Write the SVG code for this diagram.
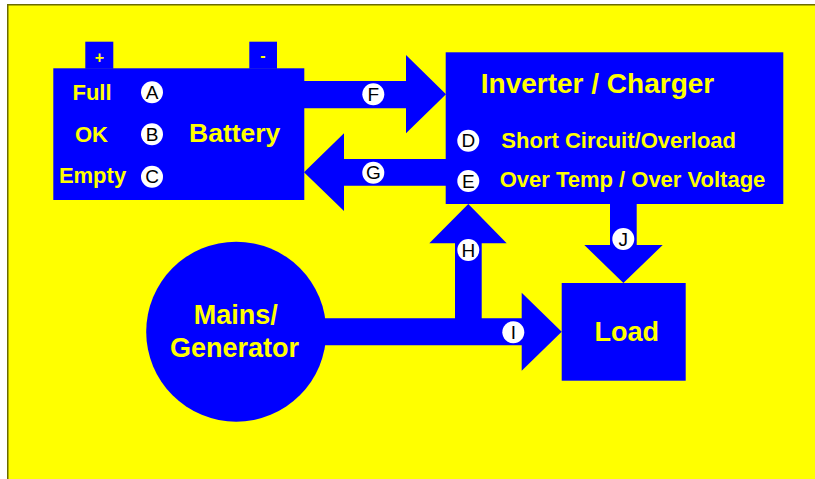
<svg xmlns="http://www.w3.org/2000/svg" width="815" height="479" viewBox="0 0 815 479">
<style>
.blue{fill:#0000ff}
.t{font-family:"Liberation Sans",Arial,sans-serif;font-weight:bold;fill:#ffff00;text-anchor:middle}
.lc{fill:#ffffff}
.lt{font-family:"Liberation Sans",Arial,sans-serif;font-size:19px;fill:#000000;text-anchor:middle}
</style>
<rect x="0" y="0" width="815" height="479" fill="#ffffff"/>
<rect x="8" y="5" width="807" height="474" fill="#ffff00"/>
<rect x="7" y="4" width="808" height="1.5" fill="#6b6b00"/>
<rect x="7" y="4" width="1.5" height="475" fill="#6b6b00"/>

<g id="connectors">
  <polygon class="blue" points="303,81 406,81 406,55 446,94.2 406,133.3 406,108.3 303,108.3"/>
  <polygon class="blue" points="447,159 344,159 344,133.3 304,172.3 344,211 344,185.7 447,185.7"/>
  <polygon class="blue" points="610,203 636.7,203 636.7,245 662.7,245 623.4,283 584.3,245 610,245"/>
  <polygon class="blue" points="300,318.3 455,318.3 455,243.3 429.3,243.3 468.3,204 506.7,243.3 481.7,243.3 481.7,318.3 521.7,318.3 521.7,292.7 561.7,331.7 521.7,370.7 521.7,345.3 300,345.3"/>
  <g id="label-F"><circle class="lc" cx="373.3" cy="94.3" r="11"/><text class="lt" x="373.3" y="101">F</text></g>
  <g id="label-G"><circle class="lc" cx="373.3" cy="172.7" r="11"/><text class="lt" x="373.3" y="179.4">G</text></g>
  <g id="label-H"><circle class="lc" cx="468.3" cy="250" r="11"/><text class="lt" x="468.3" y="256.7">H</text></g>
  <g id="label-I"><circle class="lc" cx="513.3" cy="332.3" r="11"/><text class="lt" x="513.3" y="339">I</text></g>
  <g id="label-J"><circle class="lc" cx="623.3" cy="239" r="11"/><text class="lt" x="623.3" y="245.7">J</text></g>
</g>

<g id="battery">
  <rect class="blue" x="85.3" y="41.7" width="28" height="27"/>
  <rect class="blue" x="249.3" y="41.7" width="27.7" height="27"/>
  <rect class="blue" x="53.3" y="68.3" width="251" height="131.7"/>
  <text class="t" x="99.5" y="63" font-size="16">+</text>
  <text class="t" x="263" y="61" font-size="16">-</text>
  <text class="t" x="92" y="100" font-size="22">Full</text>
  <text class="t" x="91.5" y="141.7" font-size="22">OK</text>
  <text class="t" x="92.5" y="183" font-size="22">Empty</text>
  <text class="t" x="234.7" y="141.7" font-size="26.5">Battery</text>
  <circle class="lc" cx="152" cy="92.3" r="11"/><text class="lt" x="152" y="99">A</text>
  <circle class="lc" cx="152" cy="134.3" r="11"/><text class="lt" x="152" y="141">B</text>
  <circle class="lc" cx="152" cy="176.7" r="11"/><text class="lt" x="152" y="183.4">C</text>
</g>

<g id="inverter">
  <rect class="blue" x="445.7" y="52.3" width="337.6" height="151.7"/>
  <text class="t" x="597.5" y="92.7" font-size="28">Inverter / Charger</text>
  <circle class="lc" cx="468.3" cy="140.7" r="11"/><text class="lt" x="468.3" y="147.4">D</text>
  <text class="t" x="618.7" y="147.7" font-size="22">Short Circuit/Overload</text>
  <circle class="lc" cx="468.3" cy="181" r="11"/><text class="lt" x="468.3" y="187.7">E</text>
  <text class="t" x="632.5" y="186.7" font-size="22">Over Temp / Over Voltage</text>
</g>

<g id="mains">
  <circle class="blue" cx="236.2" cy="331.7" r="90"/>
  <text class="t" x="235.8" y="324" font-size="27">Mains/</text>
  <text class="t" x="234.5" y="356.7" font-size="27">Generator</text>
</g>

<g id="load">
  <rect class="blue" x="561.7" y="283" width="124" height="97.7"/>
  <text class="t" x="626.8" y="340.7" font-size="27">Load</text>
</g>
</svg>
